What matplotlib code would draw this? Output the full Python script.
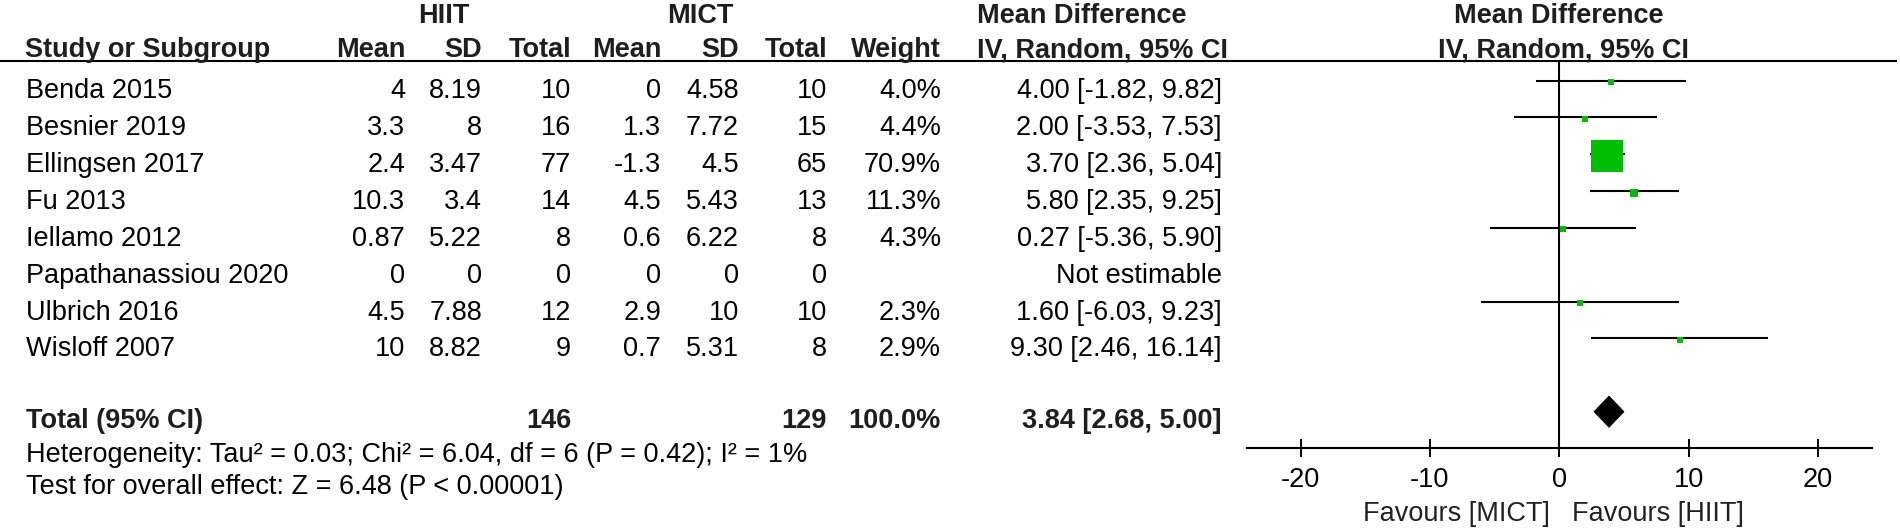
import matplotlib
matplotlib.use("Agg")
import matplotlib.pyplot as plt
from matplotlib.patches import Polygon

# ---------------- data ----------------
studies = ["Benda 2015", "Besnier 2019", "Ellingsen 2017", "Fu 2013", "Iellamo 2012",
           "Papathanassiou 2020", "Ulbrich 2016", "Wisloff 2007"]
hiit_mean = [4, 3.3, 2.4, 10.3, 0.87, 0, 4.5, 10]
hiit_sd = [8.19, 8, 3.47, 3.4, 5.22, 0, 7.88, 8.82]
hiit_n = [10, 16, 77, 14, 8, 0, 12, 9]
mict_mean = [0, 1.3, -1.3, 4.5, 0.6, 0, 2.9, 0.7]
mict_sd = [4.58, 7.72, 4.5, 5.43, 6.22, 0, 10, 5.31]
mict_n = [10, 15, 65, 13, 8, 0, 10, 8]
weight = [4.0, 4.4, 70.9, 11.3, 4.3, None, 2.3, 2.9]
md = [4.00, 2.00, 3.70, 5.80, 0.27, None, 1.60, 9.30]
ci_lo = [-1.82, -3.53, 2.36, 2.35, -5.36, None, -6.03, 2.46]
ci_hi = [9.82, 7.53, 5.04, 9.25, 5.90, None, 9.23, 16.14]

total_label = "Total (95% CI)"
total_hiit_n = 146
total_mict_n = 129
total_weight = 100.0
total_md = 3.84
total_lo = 2.68
total_hi = 5.00
heterogeneity = "Heterogeneity: Tau\u00b2 = 0.03; Chi\u00b2 = 6.04, df = 6 (P = 0.42); I\u00b2 = 1%"
overall_effect = "Test for overall effect: Z = 6.48 (P < 0.00001)"
xticks = [-20, -10, 0, 10, 20]
favours_left = "Favours [MICT]"
favours_right = "Favours [HIIT]"

# ---------------- style / layout ----------------
plt.rcParams["font.family"] = ["Liberation Sans", "DejaVu Sans"]
FS = 19.5
HDR = "#1e1e1e"
GREEN = "#00BF00"
W, H = 1900, 529

fig = plt.figure(figsize=(19, 5.29), dpi=100)
tab = fig.add_axes([0, 0, 1, 1])
tab.set_xlim(0, W)
tab.set_ylim(H, 0)
tab.axis("off")

col_right = [405, 482, 571, 661, 739, 827, 941, 1222]
row0_base = 98.5
row_step = 36.85
row0_line = 80.5

def fmt(v):
    return f"{v:g}"

# headers
tab.text(444, 23, "HIIT", ha="center", va="baseline", fontsize=FS, fontweight="bold", color=HDR)
tab.text(700, 23, "MICT", ha="center", va="baseline", fontsize=FS, fontweight="bold", color=HDR)
tab.text(977, 23, "Mean Difference", ha="left", va="baseline", fontsize=FS, fontweight="bold", color=HDR)
tab.text(1559, 23, "Mean Difference", ha="center", va="baseline", fontsize=FS, fontweight="bold", color=HDR)

tab.text(25, 57, "Study or Subgroup", ha="left", va="baseline", fontsize=FS, fontweight="bold", color=HDR)
for x, lab in zip(col_right[:7], ["Mean", "SD", "Total", "Mean", "SD", "Total", "Weight"]):
    tab.text(x, 57, lab, ha="right", va="baseline", fontsize=FS, fontweight="bold", color=HDR)
tab.text(977, 57, "IV, Random, 95% CI", ha="left", va="baseline", fontsize=FS, fontweight="bold", color=HDR)
tab.text(1564, 57, "IV, Random, 95% CI", ha="center", va="baseline", fontsize=FS, fontweight="bold", color=HDR)
tab.plot([0, 1897], [61, 61], color="black", lw=1.5, solid_capstyle="butt")

# study rows
for i, name in enumerate(studies):
    yb = row0_base + i * row_step
    tab.text(26, yb, name, ha="left", va="baseline", fontsize=FS, color="black")
    vals = [fmt(hiit_mean[i]), fmt(hiit_sd[i]), str(hiit_n[i]),
            fmt(mict_mean[i]), fmt(mict_sd[i]), str(mict_n[i])]
    vals.append("" if weight[i] is None else f"{weight[i]:.1f}%")
    vals.append("Not estimable" if md[i] is None else f"{md[i]:.2f} [{ci_lo[i]:.2f}, {ci_hi[i]:.2f}]")
    for x, v in zip(col_right, vals):
        tab.text(x, yb, v, ha="right", va="baseline", fontsize=FS, color="black")

# total row
tb = 428
tab.text(26, tb, total_label, ha="left", va="baseline", fontsize=FS, fontweight="bold", color=HDR)
tab.text(col_right[2], tb, str(total_hiit_n), ha="right", va="baseline", fontsize=FS, fontweight="bold", color=HDR)
tab.text(col_right[5], tb, str(total_mict_n), ha="right", va="baseline", fontsize=FS, fontweight="bold", color=HDR)
tab.text(col_right[6], tb, f"{total_weight:.1f}%", ha="right", va="baseline", fontsize=FS, fontweight="bold", color=HDR)
tab.text(col_right[7], tb, f"{total_md:.2f} [{total_lo:.2f}, {total_hi:.2f}]", ha="right", va="baseline",
         fontsize=FS, fontweight="bold", color=HDR)
tab.text(26, 462, heterogeneity, ha="left", va="baseline", fontsize=FS, color="black")
tab.text(26, 494, overall_effect, ha="left", va="baseline", fontsize=FS, color="black")

# ---------------- forest plot ----------------
x_left, x_right = 1246.8, 1871.8
fax = fig.add_axes([x_left / W, 0, (x_right - x_left) / W, 1])
fax.set_facecolor("none")
fax.set_xlim(-24.15, 24.15)
fax.set_ylim(H, 0)
for s in ["top", "left", "right"]:
    fax.spines[s].set_visible(False)
fax.spines["bottom"].set_position(("data", 448))
fax.spines["bottom"].set_linewidth(1.5)
fax.set_yticks([])
fax.set_xticks(xticks)
fax.set_xticklabels([str(t) for t in xticks])
fax.tick_params(axis="x", direction="inout", length=13, width=1.4, labelsize=FS, pad=7, colors="black")

fax.plot([0, 0], [61, 448], color="black", lw=1.5, solid_capstyle="butt")

for i in range(len(studies)):
    if md[i] is None:
        continue
    y = row0_line + i * row_step
    fax.plot([ci_lo[i], ci_hi[i]], [y, y], color="black", lw=1.5, solid_capstyle="butt", zorder=2)
    side_px = 4.6 + 0.386 * weight[i]
    fax.scatter([md[i]], [y + 1.5], marker="s", s=(side_px * 0.72) ** 2, color=GREEN,
                linewidths=0, zorder=3)

yd = 411.7
hh = 15.7
fax.add_patch(Polygon([(total_lo, yd), (total_md, yd - hh), (total_hi, yd), (total_md, yd + hh)],
                      closed=True, facecolor="black", edgecolor="black", lw=0.5, zorder=3))

fax.text(-0.75, 521, favours_left, ha="right", va="baseline", fontsize=FS, color="#222222")
fax.text(0.95, 521, favours_right, ha="left", va="baseline", fontsize=FS, color="#222222")

fig.savefig("out.png", dpi=100)
